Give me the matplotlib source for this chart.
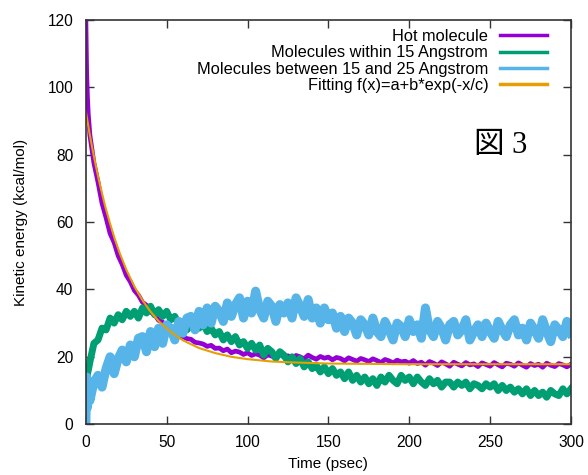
import numpy as np
import matplotlib
matplotlib.use("Agg")
import matplotlib.pyplot as plt

# ---------------- data ----------------
t_early = [0.0, 0.5, 1.0, 1.5]
t_step = list(np.arange(2.5, 300.01, 2.5))
time = t_early + t_step

hot = [120, 104, 97, 92,
       85.8, 77.5, 71.9, 65.6, 61.3, 56.6, 53.9, 50.0, 47.4, 44.2,
       42.3, 39.7, 38.3, 36.2, 35.3, 33.2, 32.6, 30.8, 30.3, 28.7,
       28.2, 27.3, 26.8, 26.0, 25.4, 25.2, 24.3, 24.1, 23.8, 23.1,
       23.4, 22.5, 22.6, 21.8, 22.3, 21.2, 21.7, 21.4, 20.7, 21.2,
       20.4, 20.9, 20.5, 19.7, 20.6, 20.2, 19.6, 20.8, 19.9, 20.3,
       19.5, 20.4, 20.0, 19.4, 20.5, 19.8, 19.3, 20.1, 19.6, 19.9,
       19.1, 19.8, 19.5, 18.8, 19.7, 19.2, 18.7, 19.5, 19.1, 18.6,
       19.4, 18.9, 18.3, 19.2, 18.8, 18.2, 19.0, 18.5, 18.7, 18.1,
       18.9, 18.0, 18.4, 17.5, 18.6, 18.1, 17.4, 18.5, 17.9, 17.2,
       18.4, 17.8, 17.3, 18.3, 17.6, 17.9, 17.1, 18.2, 17.7, 17.2,
       18.3, 17.6, 17.0, 18.1, 17.8, 17.2, 18.2, 17.5, 16.9, 18.0,
       17.4, 17.8, 16.9, 18.1, 17.5, 17.1, 18.0, 17.6, 17.0, 17.8]

within15 = [3, 12, 15, 16,
            18.5, 24.0, 25.0, 28.5, 28.0, 31.5, 30.0, 32.5, 31.0, 33.5,
            32.0, 33.5, 31.5, 34.5, 33.0, 35.0, 32.5, 34.0, 32.0, 33.5,
            31.0, 32.0, 29.5, 30.5, 28.0, 29.5, 31.0, 28.5, 30.0, 27.5,
            28.5, 26.5, 27.5, 25.0, 26.5, 24.5, 26.0, 23.5, 24.5, 22.5,
            24.0, 22.0, 23.5, 20.5, 22.5, 21.5, 19.5, 21.5, 20.5, 18.5,
            20.0, 18.0, 19.5, 17.0, 18.5, 16.5, 17.5, 15.5, 17.0, 15.0,
            16.5, 14.5, 15.5, 13.5, 15.5, 13.0, 14.5, 12.5, 14.0, 12.0,
            13.5, 11.5, 14.0, 12.5, 14.5, 13.0, 12.0, 14.5, 13.0, 14.0,
            12.0, 14.0, 12.5, 11.5, 13.5, 12.0, 13.0, 11.0, 12.5, 12.5,
            11.0, 12.5, 11.5, 12.5, 10.5, 12.0, 11.5, 10.5, 12.0, 11.0,
            12.0, 10.0, 11.5, 10.0, 11.0, 9.5, 10.5, 9.0, 10.5, 8.5,
            10.0, 8.5, 9.5, 8.0, 10.0, 9.0, 8.5, 10.5, 9.0, 10.5]

between15_25 = [0, 14, 5, 12,
                7.0, 12.5, 14.5, 11.0, 16.5, 20.0, 15.0, 19.5, 22.0, 18.5,
                23.5, 20.0, 25.5, 26.0, 21.5, 27.5, 23.0, 28.5, 24.0, 29.5,
                28.5, 25.0, 30.5, 27.0, 31.5, 32.0, 28.0, 33.5, 29.5, 34.5,
                30.0, 35.0, 33.5, 30.5, 36.0, 32.0, 35.5, 37.5, 31.5, 36.5,
                33.0, 39.5, 34.0, 31.5, 36.5, 35.0, 30.5, 35.5, 33.0, 36.0,
                31.5, 37.5, 35.0, 32.0, 37.0, 31.5, 34.5, 30.0, 34.5, 31.0,
                33.0, 28.5, 32.0, 27.5, 31.5, 30.0, 26.5, 31.0, 29.5, 26.5,
                31.5, 27.5, 26.0, 30.5, 28.0, 25.0, 30.0, 29.0, 26.0, 31.0,
                27.5, 29.5, 25.5, 34.5, 28.0, 26.0, 30.5, 28.5, 25.0, 29.5,
                30.5, 26.5, 28.0, 31.0, 25.0, 27.5, 29.5, 26.0, 30.0, 27.5,
                25.5, 30.5, 28.0, 26.0, 29.5, 31.0, 26.5, 28.5, 25.0, 30.0,
                28.0, 25.5, 31.0, 27.5, 24.5, 29.5, 28.0, 26.0, 30.5, 27.0]

fit_t = [0, 2, 4, 6, 8, 10, 12, 15, 18, 21, 25, 30, 35, 40, 45, 50, 55, 60,
         70, 80, 90, 100, 115, 130, 150, 175, 200, 250, 300]
fit_v = [92.8, 87.1, 81.9, 77.1, 72.6, 68.5, 64.6, 59.5, 54.8, 50.7, 45.9,
         40.9, 36.8, 33.4, 30.6, 28.4, 26.5, 24.9, 22.6, 21.1, 20.0, 19.3,
         18.6, 18.3, 18.0, 17.9, 17.8, 17.8, 17.8]

labels = ["Hot molecule", "Molecules within 15 Angstrom",
          "Molecules between 15 and 25 Angstrom", "Fitting f(x)=a+b*exp(-x/c)"]
xticks = [0, 50, 100, 150, 200, 250, 300]
yticks = [0, 20, 40, 60, 80, 100, 120]

# ---------------- figure ----------------
plt.rcParams['font.family'] = ['Liberation Sans', 'DejaVu Sans']

fig = plt.figure(figsize=(5.88, 4.75), dpi=100)
ax = fig.add_axes([0.146, 0.107, 0.825, 0.851])

c_hot, c_in, c_bet, c_fit = "#9400D3", "#009E73", "#56B4E9", "#E69F00"

ax.plot(time, hot, color=c_hot, lw=3.4, label=labels[0])
ax.plot(time, within15, color=c_in, lw=5.0, label=labels[1])
ax.plot(time, between15_25, color=c_bet, lw=6.5, label=labels[2])
ax.plot(fit_t, fit_v, color=c_fit, lw=1.5, label=labels[3])

ax.set_xlim(0, 300)
ax.set_ylim(0, 120)
ax.set_xticks(xticks)
ax.set_yticks(yticks)
ax.tick_params(axis='both', direction='in', length=6, width=1, top=True,
               right=True, labelsize=11.2, colors='#333333',
               labelcolor='black')
ax.tick_params(axis='y', pad=9)
ax.tick_params(axis='x', pad=8)
for s in ax.spines.values():
    s.set_linewidth(1.2)
    s.set_color('#333333')

ax.set_xlabel("Time (psec)", fontsize=11, labelpad=5)
ax.set_ylabel("Kinetic energy (kcal/mol)", fontsize=11, labelpad=14)

leg_handles = ax.get_lines()
leg = ax.legend(leg_handles, labels, loc='upper right', markerfirst=False,
                frameon=False, fontsize=11.8, handlelength=2.9,
                handletextpad=0.7, labelspacing=0.08,
                bbox_to_anchor=(0.975, 1.006), borderaxespad=0.3)
for ln in leg.get_lines():
    ln.set_linewidth(2.5)

ax.text(0.855, 0.69, "図 3", transform=ax.transAxes, fontsize=22,
        family=['Liberation Serif', 'Noto Sans CJK JP'],
        ha='center', va='center')

fig.savefig("out.png", dpi=100)
